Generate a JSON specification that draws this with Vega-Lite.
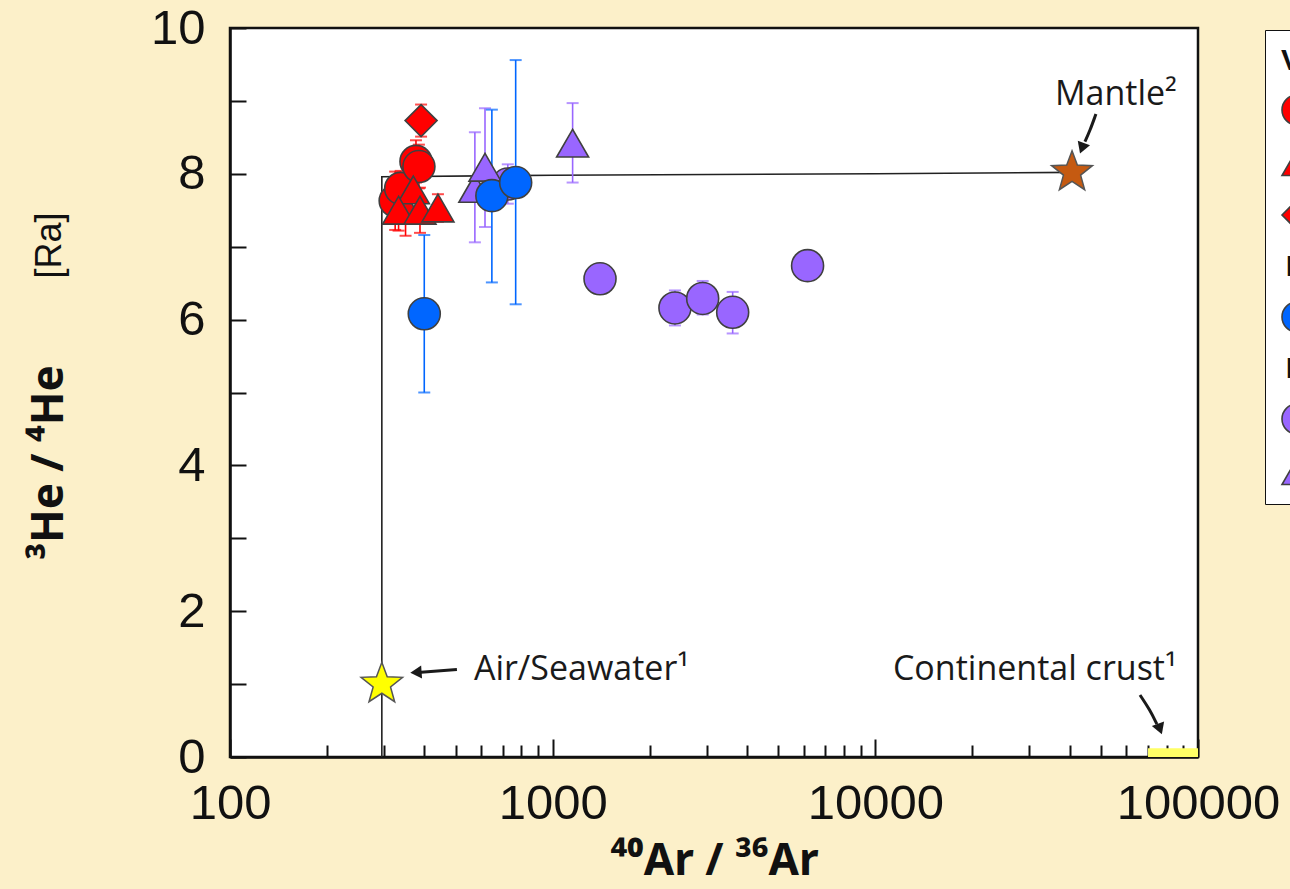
{
  "$schema": "https://vega.github.io/schema/vega-lite/v6.json",
  "width": 968,
  "height": 729,
  "autosize": "none",
  "padding": {"left": 230, "top": 28, "right": 92, "bottom": 132},
  "background": "#FCF0C9",
  "view": {"fill": "white", "stroke": "#111111", "strokeWidth": 2.5},
  "config": {
    "font": "Liberation Sans",
    "axis": {
      "grid": false,
      "domainColor": "#111111",
      "domainWidth": 2.5,
      "tickColor": "#111111",
      "tickWidth": 2,
      "labelColor": "#111111",
      "labelFont": "Liberation Sans",
      "labelFontSize": 49,
      "labelOverlap": false,
      "labelFlush": false,
      "labelBound": false,
      "titleColor": "#111111",
      "titleFont": "Noto Sans",
      "titleFontWeight": "bold"
    }
  },
  "resolve": {"axis": {"y": "independent"}},
  "datasets": {
    "pts": [
      {"series": "P-circle", "x": 726, "y": 7.86, "lo": 7.59, "hi": 8.13},
      {"series": "P-circle", "x": 1402, "y": 6.56},
      {"series": "P-circle", "x": 2393, "y": 6.16, "lo": 5.92, "hi": 6.4},
      {"series": "P-circle", "x": 2917, "y": 6.29, "lo": 6.07, "hi": 6.53},
      {"series": "P-circle", "x": 3613, "y": 6.1, "lo": 5.81, "hi": 6.38},
      {"series": "P-circle", "x": 6166, "y": 6.74},
      {"series": "P-triangle", "x": 574, "y": 7.8, "lo": 7.06, "hi": 8.57},
      {"series": "P-triangle", "x": 617, "y": 8.09, "lo": 7.27, "hi": 8.9},
      {"series": "P-triangle", "x": 1153, "y": 8.42, "lo": 7.88, "hi": 8.97},
      {"series": "V-circle", "x": 325, "y": 7.63, "lo": 7.23, "hi": 8.03},
      {"series": "V-circle", "x": 338, "y": 7.8, "lo": 7.56, "hi": 8.04},
      {"series": "V-circle", "x": 377, "y": 8.17, "lo": 7.88, "hi": 8.46},
      {"series": "V-circle", "x": 385, "y": 8.1, "lo": 7.8, "hi": 8.4},
      {"series": "V-triangle", "x": 350, "y": 7.55, "lo": 7.15, "hi": 7.95},
      {"series": "V-triangle", "x": 370, "y": 7.78, "lo": 7.62, "hi": 7.94},
      {"series": "V-triangle", "x": 333, "y": 7.5, "lo": 7.22, "hi": 7.78},
      {"series": "V-triangle", "x": 388, "y": 7.5, "lo": 7.19, "hi": 7.81},
      {"series": "V-triangle", "x": 441, "y": 7.53, "lo": 7.34, "hi": 7.72},
      {"series": "V-diamond", "x": 391, "y": 8.73, "lo": 8.51, "hi": 8.95},
      {"series": "I-circle", "x": 400, "y": 6.08, "lo": 5.0, "hi": 7.16},
      {"series": "I-circle", "x": 648, "y": 7.7, "lo": 6.51, "hi": 8.88},
      {"series": "I-circle", "x": 768, "y": 7.88, "lo": 6.21, "hi": 9.56}
    ],
    "mix": [
      {"i": 0, "x": 295.5, "y": 0},
      {"i": 1, "x": 295.5, "y": 7.96},
      {"i": 2, "x": 1000, "y": 7.98},
      {"i": 3, "x": 10000, "y": 8.0},
      {"i": 4, "x": 40700, "y": 8.02}
    ],
    "arrows": [
      {"arrow": "air", "i": 0, "x": 505, "y": 1.2},
      {"arrow": "air", "i": 1, "x": 382, "y": 1.16},
      {"arrow": "mantle", "i": 0, "x": 48270, "y": 8.82},
      {"arrow": "mantle", "i": 1, "x": 46240, "y": 8.59},
      {"arrow": "mantle", "i": 2, "x": 44620, "y": 8.44},
      {"arrow": "crust", "i": 0, "x": 66100, "y": 0.85},
      {"arrow": "crust", "i": 1, "x": 70960, "y": 0.645},
      {"arrow": "crust", "i": 2, "x": 74590, "y": 0.45}
    ],
    "labels": [
      {"text": "Mantle²", "x": 36030, "y": 9.08},
      {"text": "Air/Seawater¹", "x": 570, "y": 1.19},
      {"text": "Continental crust¹", "x": 11340, "y": 1.19}
    ]
  },
  "layer": [
    {
      "data": {"values": [{"x": 70000, "x2": 100000, "y": 0, "y2": 0.12}]},
      "mark": {"type": "rect", "fill": "#FFFF66"},
      "encoding": {
        "x": {
          "field": "x", "type": "quantitative",
          "scale": {"type": "log", "domain": [100, 100000], "nice": false},
          "axis": {
            "title": "⁴⁰Ar / ³⁶Ar",
            "titleFontSize": 44,
            "titlePadding": 5,
            "values": [100, 200, 300, 400, 500, 600, 700, 800, 900, 1000, 2000, 3000, 4000, 5000, 6000, 7000, 8000, 9000, 10000, 20000, 30000, 40000, 50000, 60000, 70000, 80000, 90000, 100000],
            "labelExpr": "indexof([100,1000,10000,100000], datum.value) >= 0 ? format(datum.value, 'd') : ''",
            "tickSize": {"condition": {"test": "indexof([100,1000,10000,100000], datum.value) >= 0", "value": -18}, "value": -12},
            "labelPadding": 40
          }
        },
        "x2": {"field": "x2"},
        "y": {
          "field": "y", "type": "quantitative",
          "scale": {"domain": [0, 10], "nice": false},
          "axis": {
            "title": "³He / ⁴He",
            "titleFontSize": 44,
            "titleX": -168,
            "titleY": 434,
            "titleBaseline": "alphabetic",
            "values": [0, 1, 2, 3, 4, 5, 6, 7, 8, 9, 10],
            "format": "d",
            "labelExpr": "datum.value % 2 === 0 ? datum.label : ''",
            "tickSize": -16,
            "labelPadding": 41
          }
        },
        "y2": {"field": "y2"}
      }
    },
    {
      "data": {"name": "mix"},
      "mark": {"type": "line", "color": "#222222", "strokeWidth": 1.6},
      "encoding": {
        "x": {"field": "x", "type": "quantitative"},
        "y": {
          "field": "y", "type": "quantitative",
          "axis": {
            "orient": "left",
            "title": "[Ra]",
            "titleFont": "Liberation Sans",
            "titleFontWeight": "normal",
            "titleFontSize": 36,
            "titleX": -170,
            "titleY": 217,
            "titleBaseline": "alphabetic",
            "labels": false,
            "ticks": false,
            "domain": false
          }
        },
        "order": {"field": "i"}
      }
    },
    {
      "data": {"name": "arrows"},
      "mark": {"type": "line", "color": "#1a1a1a", "strokeWidth": 3, "interpolate": "basis"},
      "encoding": {
        "x": {"field": "x", "type": "quantitative"},
        "y": {"field": "y", "type": "quantitative", "axis": null},
        "detail": {"field": "arrow"},
        "order": {"field": "i"}
      }
    },
    {
      "data": {"values": [{"x": 377, "y": 1.16}]},
      "mark": {"type": "point", "shape": "triangle-up", "filled": true, "color": "#1a1a1a", "size": 170, "angle": 266, "opacity": 1},
      "encoding": {"x": {"field": "x", "type": "quantitative"}, "y": {"field": "y", "type": "quantitative", "axis": null}}
    },
    {
      "data": {"values": [{"x": 43690, "y": 8.35}]},
      "mark": {"type": "point", "shape": "triangle-up", "filled": true, "color": "#1a1a1a", "size": 170, "angle": 200, "opacity": 1},
      "encoding": {"x": {"field": "x", "type": "quantitative"}, "y": {"field": "y", "type": "quantitative", "axis": null}}
    },
    {
      "data": {"values": [{"x": 76200, "y": 0.384}]},
      "mark": {"type": "point", "shape": "triangle-up", "filled": true, "color": "#1a1a1a", "size": 170, "angle": 160, "opacity": 1},
      "encoding": {"x": {"field": "x", "type": "quantitative"}, "y": {"field": "y", "type": "quantitative", "axis": null}}
    },
    {
      "data": {"name": "pts"},
      "mark": {"type": "rule", "strokeWidth": 1.6},
      "encoding": {
        "x": {"field": "x", "type": "quantitative"},
        "y": {"field": "lo", "type": "quantitative", "axis": null},
        "y2": {"field": "hi"},
        "stroke": {
          "field": "series", "type": "nominal", "legend": null,
          "scale": {"domain": ["V-circle", "V-triangle", "V-diamond", "I-circle", "P-circle", "P-triangle"], "range": ["#FF0000", "#FF0000", "#FF0000", "#0066FF", "#9966FF", "#9966FF"]}
        }
      }
    },
    {
      "data": {"name": "pts"},
      "mark": {"type": "tick", "orient": "horizontal", "size": 12, "thickness": 2},
      "encoding": {
        "x": {"field": "x", "type": "quantitative"},
        "y": {"field": "lo", "type": "quantitative", "axis": null},
        "fill": {
          "field": "series", "type": "nominal", "legend": null,
          "scale": {"domain": ["V-circle", "V-triangle", "V-diamond", "I-circle", "P-circle", "P-triangle"], "range": ["#FF0000", "#FF0000", "#FF0000", "#0066FF", "#9966FF", "#9966FF"]}
        }
      }
    },
    {
      "data": {"name": "pts"},
      "mark": {"type": "tick", "orient": "horizontal", "size": 12, "thickness": 2},
      "encoding": {
        "x": {"field": "x", "type": "quantitative"},
        "y": {"field": "hi", "type": "quantitative", "axis": null},
        "fill": {"field": "series", "type": "nominal", "legend": null}
      }
    },
    {
      "data": {"name": "pts"},
      "mark": {"type": "point", "filled": true, "opacity": 1, "size": 1024, "stroke": "#404040", "strokeWidth": 1.6},
      "encoding": {
        "x": {"field": "x", "type": "quantitative"},
        "y": {"field": "y", "type": "quantitative", "axis": null},
        "color": {
          "field": "series", "type": "nominal",
          "scale": {
            "domain": ["V-circle", "V-triangle", "V-diamond", "I-head-1", "I-circle", "I-head-2", "P-circle", "P-triangle"],
            "range": ["#FF0000", "#FF0000", "#FF0000", "transparent", "#0066FF", "transparent", "#9966FF", "#9966FF"]
          },
          "legend": {
            "orient": "none",
            "legendX": 1035,
            "legendY": 2,
            "title": "V",
            "titleFont": "Liberation Sans",
            "titleFontSize": 30,
            "titleFontWeight": "bold",
            "titleColor": "#111111",
            "titlePadding": 18,
            "labelFont": "Liberation Sans",
            "labelFontSize": 30,
            "labelColor": "#111111",
            "labelExpr": "indexof(datum.value, 'head') >= 0 ? 'I' : ''",
            "labelOffset": -28,
            "symbolSize": 900,
            "symbolStrokeColor": "#404040",
            "symbolStrokeWidth": 1.6,
            "rowPadding": 16.5,
            "padding": 16,
            "strokeColor": "#111111",
            "fillColor": "white"
          }
        },
        "shape": {
          "field": "series", "type": "nominal",
          "scale": {
            "domain": ["V-circle", "V-triangle", "V-diamond", "I-head-1", "I-circle", "I-head-2", "P-circle", "P-triangle"],
            "range": ["circle", "triangle-up", "diamond", "M0,-0.05L0.05,0.05L-0.05,0.05Z", "circle", "M0,-0.05L0.05,0.05L-0.05,0.05Z", "circle", "triangle-up"]
          },
          "legend": {
            "orient": "none",
            "legendX": 1035,
            "legendY": 2,
            "title": "V"
          }
        }
      }
    },
    {
      "data": {"values": [{"x": 295.5, "y": 1.0}]},
      "mark": {"type": "point", "shape": "M0,-1L0.247,-0.34L0.951,-0.309L0.399,0.13L0.588,0.809L0,0.42L-0.588,0.809L-0.399,0.13L-0.951,-0.309L-0.247,-0.34Z", "filled": true, "opacity": 1, "fill": "#FFFF00", "stroke": "#555555", "strokeWidth": 1.5, "size": 1900},
      "encoding": {"x": {"field": "x", "type": "quantitative"}, "y": {"field": "y", "type": "quantitative", "axis": null}}
    },
    {
      "data": {"values": [{"x": 40700, "y": 8.02}]},
      "mark": {"type": "point", "shape": "M0,-1L0.247,-0.34L0.951,-0.309L0.399,0.13L0.588,0.809L0,0.42L-0.588,0.809L-0.399,0.13L-0.951,-0.309L-0.247,-0.34Z", "filled": true, "opacity": 1, "fill": "#C55A11", "stroke": "#555555", "strokeWidth": 1.5, "size": 1850},
      "encoding": {"x": {"field": "x", "type": "quantitative"}, "y": {"field": "y", "type": "quantitative", "axis": null}}
    },
    {
      "data": {"name": "labels"},
      "mark": {"type": "text", "font": "Open Sans", "fontSize": 34, "color": "#1a1a1a", "baseline": "middle", "align": "left"},
      "encoding": {
        "x": {"field": "x", "type": "quantitative"},
        "y": {"field": "y", "type": "quantitative", "axis": null},
        "text": {"field": "text"}
      }
    }
  ]
}
